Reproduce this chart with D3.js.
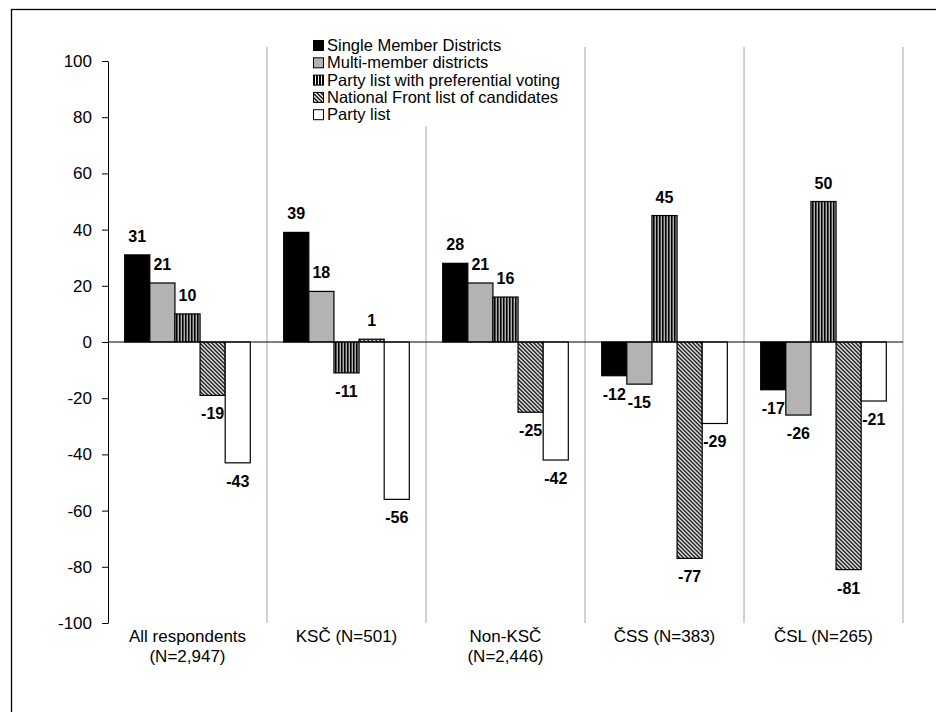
<!DOCTYPE html>
<html>
<head>
<meta charset="utf-8">
<script src="https://cdn.jsdelivr.net/npm/d3@7"></script>
<style>
  body { margin: 0; background: #fff; }
  svg { font-family: "Liberation Sans", Arial, sans-serif; }
</style>
</head>
<body>
<svg id="chart" width="936" height="712"></svg>
<script>
// data
const categories = [
  ["All respondents", "(N=2,947)"],
  ["KSČ (N=501)"],
  ["Non-KSČ", "(N=2,446)"],
  ["ČSS (N=383)"],
  ["ČSL (N=265)"]
];
const seriesNames = [
  "Single Member Districts",
  "Multi-member districts",
  "Party list with preferential voting",
  "National Front list of candidates",
  "Party list"
];
const singleMember = [31, 39, 28, -12, -17];
const multiMember = [21, 18, 21, -15, -26];
const prefVoting = [10, -11, 16, 45, 50];
const nationalFront = [-19, 1, -25, -77, -81];
const partyList = [-43, -56, -42, -29, -21];
const yTicks = [-100, -80, -60, -40, -20, 0, 20, 40, 60, 80, 100];

const seriesValues = [singleMember, multiMember, prefVoting, nationalFront, partyList];
const fills = ["#000", "#b3b3b3", "url(#vert)", "url(#diag)", "#fff"];

const svg = d3.select("#chart");
const margin = { left: 108, right: 903, top: 61, bottom: 623 };

// frame around the whole chart
svg.append("rect")
    .attr("x", 11.5).attr("y", 9.5)
    .attr("width", 1000).attr("height", 1000)
    .attr("fill", "none").attr("stroke", "#000").attr("stroke-width", 1.3);

// patterns
const defs = svg.append("defs");
const vert = defs.append("pattern")
    .attr("id", "vert").attr("patternUnits", "userSpaceOnUse")
    .attr("width", 3).attr("height", 3);
vert.append("rect").attr("width", 3).attr("height", 3).attr("fill", "#fff");
vert.append("rect").attr("width", 2).attr("height", 3).attr("fill", "#000");

const diag = defs.append("pattern")
    .attr("id", "diag").attr("patternUnits", "userSpaceOnUse")
    .attr("width", 4).attr("height", 4);
diag.append("rect").attr("width", 4).attr("height", 4).attr("fill", "#fff");
diag.append("path")
    .attr("d", "M0,0 L4,4 M-1,3 L1,5 M3,-1 L5,1")
    .attr("stroke", "#000").attr("stroke-width", 1.4);

// scales
const idx = d3.range(categories.length);
const x0 = d3.scaleBand()
    .domain(idx)
    .range([margin.left, margin.right])
    .paddingInner(0.21)
    .paddingOuter(0.105);
const x1 = d3.scaleBand()
    .domain(d3.range(seriesNames.length))
    .range([0, x0.bandwidth()]);
const y = d3.scaleLinear().domain([-100, 100]).range([margin.bottom, margin.top]);
const step = x0.step();

// category separators
svg.append("g")
    .selectAll("line")
    .data(d3.range(categories.length + 1).slice(1))
    .enter().append("line")
    .attr("x1", d => margin.left + d * step)
    .attr("x2", d => margin.left + d * step)
    .attr("y1", 47)
    .attr("y2", margin.bottom)
    .attr("stroke", "#a6a6a6")
    .attr("stroke-width", 1);

// y axis
const yAxis = svg.append("g")
    .attr("transform", `translate(${margin.left},0)`)
    .call(d3.axisLeft(y).tickValues(yTicks).tickFormat(d => String(d))
        .tickSize(6).tickSizeOuter(0).tickPadding(10));
yAxis.select(".domain").attr("stroke", "#000");
yAxis.selectAll(".tick line").attr("stroke", "#000");
yAxis.selectAll("text")
    .attr("font-size", 17)
    .attr("font-family", "Liberation Sans, Arial, sans-serif")
    .attr("fill", "#000");

// bars
const groups = svg.append("g")
    .selectAll("g")
    .data(idx)
    .enter().append("g")
    .attr("transform", i => `translate(${x0(i)},0)`);

groups.selectAll("rect")
    .data(i => seriesValues.map((s, k) => ({ k, v: s[i] })))
    .enter().append("rect")
    .attr("x", d => x1(d.k))
    .attr("width", x1.bandwidth())
    .attr("y", d => y(Math.max(0, d.v)))
    .attr("height", d => Math.abs(y(d.v) - y(0)))
    .attr("fill", d => fills[d.k])
    .attr("stroke", "#000")
    .attr("stroke-width", 1.2);

// zero line
svg.append("line")
    .attr("x1", margin.left).attr("x2", margin.right)
    .attr("y1", y(0)).attr("y2", y(0))
    .attr("stroke", "#000").attr("stroke-width", 1);

// value labels
groups.selectAll("text.val")
    .data(i => seriesValues.map((s, k) => ({ k, v: s[i] })))
    .enter().append("text")
    .attr("class", "val")
    .attr("x", d => x1(d.k) + x1.bandwidth() / 2)
    .attr("y", d => d.v >= 0 ? y(d.v) - 13 : y(d.v) + 24)
    .attr("text-anchor", "middle")
    .attr("font-size", 16)
    .attr("font-weight", "bold")
    .text(d => d.v);

// category labels
svg.append("g")
    .selectAll("text")
    .data(idx)
    .enter().append("text")
    .attr("x", i => x0(i) + x0.bandwidth() / 2)
    .attr("y", 642)
    .attr("text-anchor", "middle")
    .attr("font-size", 17)
    .each(function(i) {
        d3.select(this).selectAll("tspan")
            .data(categories[i])
            .enter().append("tspan")
            .attr("x", x0(i) + x0.bandwidth() / 2)
            .attr("dy", (d, j) => j === 0 ? 0 : 20)
            .text(d => d);
    });

// legend
const legend = svg.append("g");
legend.append("rect")
    .attr("x", 308).attr("y", 34)
    .attr("width", 250).attr("height", 92)
    .attr("fill", "#fff");
const items = legend.selectAll("g")
    .data(seriesNames)
    .enter().append("g")
    .attr("transform", (d, k) => `translate(313,${45 + k * 17.3})`);
items.append("rect")
    .attr("x", 0.5).attr("y", -4.5)
    .attr("width", 10).attr("height", 10)
    .attr("fill", (d, k) => fills[k])
    .attr("stroke", "#000").attr("stroke-width", 1);
items.append("text")
    .attr("x", 14).attr("y", 6)
    .attr("font-size", 16.5)
    .text(d => d);
</script>
</body>
</html>
